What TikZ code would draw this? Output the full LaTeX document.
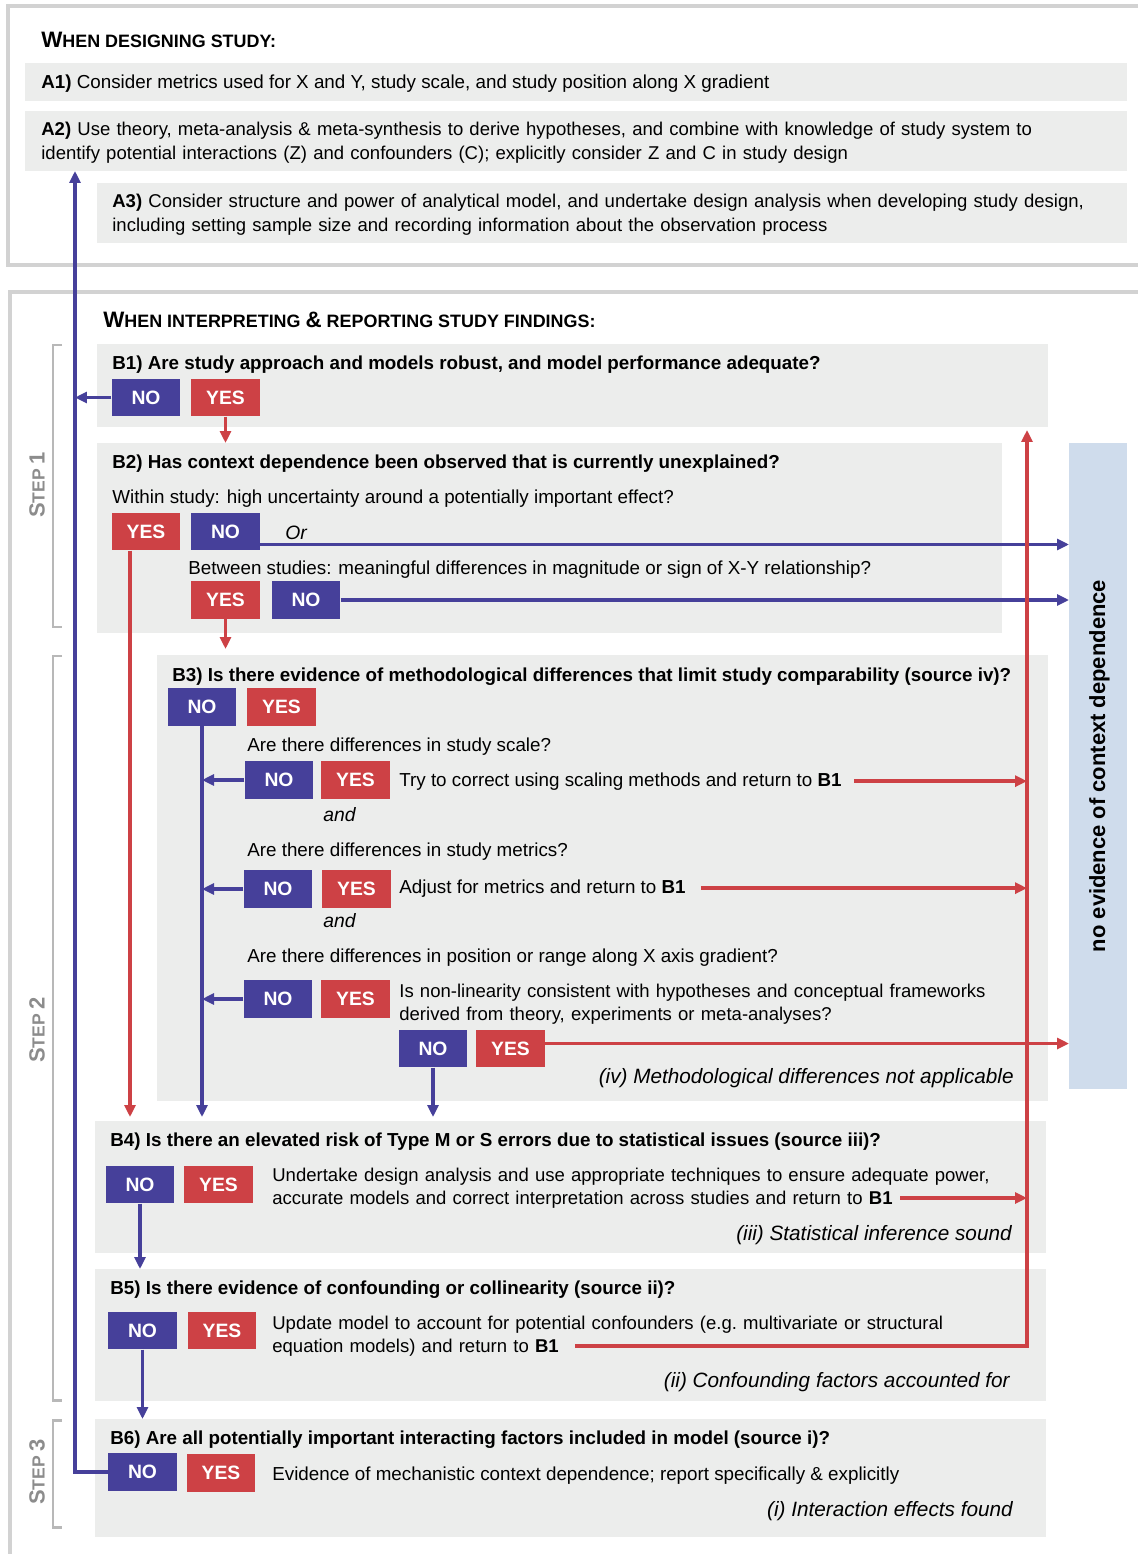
\documentclass[tikz,border=0pt]{standalone}
\usepackage{fontspec}
\setmainfont{Liberation Sans}
\usetikzlibrary{arrows.meta,fit}
\definecolor{CDBlue}{HTML}{46409A}
\definecolor{CDRed}{HTML}{CD4145}
\definecolor{CDPanel}{HTML}{ECEDEC}
\definecolor{CDSky}{HTML}{CFDCEC}
\definecolor{CDFrame}{HTML}{D2D2D2}
\definecolor{CDBracket}{HTML}{B8B8B8}
\definecolor{CDStep}{HTML}{8C8C8C}
\newcommand{\scbig}[1]{{\fontsize{12.7}{14}\selectfont #1}}
\newcommand{\scsmall}[1]{{\fontsize{10.2}{12}\selectfont #1}}
\newcommand{\steptag}[1]{{\fontsize{12.5}{14}\selectfont S}{\fontsize{10}{12}\selectfont TEP }{\fontsize{12.5}{14}\selectfont #1}}

\begin{document}
\begin{tikzpicture}[
    x=0.02cm, y=-0.02cm,
    frame/.style={draw=CDFrame, line width=2.3pt},
    bracket/.style={draw=CDBracket, line width=1.7pt},
    steplbl/.style={rotate=90, text=CDStep, font=\bfseries, inner sep=0pt},
    panel/.style={fill=CDPanel, inner sep=0pt, outer sep=0pt},
    skypanel/.style={fill=CDSky, inner sep=0pt, outer sep=0pt},
    nobtn/.style={
      fill=CDBlue,
      text=white,
      font=\fontsize{11}{13}\selectfont\bfseries,
      minimum width=1.37cm,
      minimum height=0.75cm,
      inner sep=0pt
    },
    yesbtn/.style={nobtn, fill=CDRed},
    heading/.style={anchor=base west, inner sep=0pt, font=\bfseries},
    qtext/.style={anchor=base west, inner sep=0pt, font=\fontsize{10.7}{13.1}\selectfont\bfseries},
    btext/.style={anchor=base west, inner sep=0pt, font=\fontsize{10.7}{13.1}\selectfont},
    btwo/.style={btext, align=left, text width=21cm, font=\fontsize{10.55}{13.1}\selectfont},
    joiner/.style={anchor=base west, inner sep=0pt, font=\fontsize{11}{13}\selectfont\itshape},
    note/.style={anchor=base east, inner sep=0pt, font=\fontsize{11.8}{14}\selectfont\itshape},
    noarrow/.style={
      draw=CDBlue,
      line width=1.9pt,
      -{Triangle[length=2.4mm,width=2.2mm]}
    },
    yesarrow/.style={noarrow, draw=CDRed}
  ]
  \useasboundingbox (0,0) rectangle (1137,1554);

  % frames and step brackets
  \draw[frame] (1145,6) -- (8,6) -- (8,265) -- (1145,265);
  \draw[frame] (1145,292) -- (10,292) -- (10,1560);
  \draw[bracket] (62,345) -- (53,345) -- (53,627) -- (62,627);
  \draw[bracket] (62,656) -- (53,656) -- (53,1400) -- (62,1400);
  \draw[bracket] (62,1420) -- (53,1420) -- (53,1527) -- (62,1527);
  \node[steplbl] (step1) at (37,485) {\steptag{1}};
  \node[steplbl] (step2) at (37,1030) {\steptag{2}};
  \node[steplbl] (step3) at (37,1472) {\steptag{3}};

  % panels
  \node[panel, fit={(25,63) (1127,101)}] (a1) {};
  \node[panel, fit={(25,111) (1127,171)}] (a2) {};
  \node[panel, fit={(97,183) (1127,243)}] (a3) {};
  \node[panel, fit={(97,344) (1048,427)}] (b1) {};
  \node[panel, fit={(97,443) (1002,633)}] (b2) {};
  \node[skypanel, fit={(1069,443) (1127,1089)}] (nocd) {};
  \node[panel, fit={(157,655) (1048,1101)}] (b3) {};
  \node[panel, fit={(95,1121) (1046,1253)}] (b4) {};
  \node[panel, fit={(95,1269) (1046,1401)}] (b5) {};
  \node[panel, fit={(95,1419) (1046,1537)}] (b6) {};
  \node[rotate=90, font=\fontsize{12.5}{14}\selectfont\bfseries] (nocdtxt) at ([xshift=0.03cm]nocd.center) {no evidence of context dependence};

  % design stage
  \node[heading] (ahead) at (41,48) {\scbig{W}\scsmall{HEN DESIGNING STUDY:}};
  \node[btext] (a1txt) at (41,89) {\textbf{A1)} Consider metrics used for X and Y, study scale, and study position along X gradient};
  \node[btwo] (a2txt) at (41,136) {\textbf{A2)} Use theory, meta-analysis \& meta-synthesis to derive hypotheses, and combine with knowledge of study system to\\identify potential interactions (Z) and confounders (C); explicitly consider Z and C in study design};
  \node[btwo] (a3txt) at (112,208) {\textbf{A3)} Consider structure and power of analytical model, and undertake design analysis when developing study design,\\including setting sample size and recording information about the observation process};

  % interpreting stage
  \node[heading] (bhead) at (103,328) {\scbig{W}\scsmall{HEN INTERPRETING }\scbig{\&}\scsmall{ REPORTING STUDY FINDINGS:}};

  \node[qtext] (b1q) at (112,369) {B1) Are study approach and models robust, and model performance adequate?};
  \node[nobtn] (b1no) at (146,397.5) {NO};
  \node[yesbtn] (b1yes) at (225.5,397.5) {YES};

  \node[qtext] (b2q) at (112,468) {B2) Has context dependence been observed that is currently unexplained?};
  \node[btext] (within) at (112,503) {Within study: high uncertainty around a potentially important effect?};
  \node[yesbtn] (b2yes) at (146,531.5) {YES};
  \node[nobtn] (b2no) at (225.5,531.5) {NO};
  \node[joiner] (ortxt) at (285,539) {Or};
  \node[btext] (between) at (188,574) {Between studies: meaningful differences in magnitude or sign of X-Y relationship?};
  \node[yesbtn] (b2yes2) at (225.5,600) {YES};
  \node[nobtn] (b2no2) at (306,600) {NO};

  \node[qtext] (b3q) at (172,681) {B3) Is there evidence of methodological differences that limit study comparability (source iv)?};
  \node[nobtn] (b3no) at (202,707) {NO};
  \node[yesbtn] (b3yes) at (281.5,707) {YES};
  \node[btext] (scaleq) at (247,751) {Are there differences in study scale?};
  \node[nobtn] (scaleno) at (279,780) {NO};
  \node[yesbtn] (scaleyes) at (355.5,780) {YES};
  \node[btext] (scaletxt) at (399,786) {Try to correct using scaling methods and return to \textbf{B1}};
  \node[joiner] (and1) at (323,821) {and};
  \node[btext] (metricq) at (247,856) {Are there differences in study metrics?};
  \node[nobtn] (metricno) at (278,889) {NO};
  \node[yesbtn] (metricyes) at (356.5,889) {YES};
  \node[btext] (metrictxt) at (399,893) {Adjust for metrics and return to \textbf{B1}};
  \node[joiner] (and2) at (323,927) {and};
  \node[btext] (posq) at (247,962) {Are there differences in position or range along X axis gradient?};
  \node[nobtn] (posno) at (278,999) {NO};
  \node[yesbtn] (posyes) at (355.5,999) {YES};
  \node[btwo] (nltxt) at (399,997) {Is non-linearity consistent with hypotheses and conceptual frameworks\\derived from theory, experiments or meta-analyses?};
  \node[nobtn] (nlno) at (433,1048.5) {NO};
  \node[yesbtn] (nlyes) at (510.5,1048.5) {YES};
  \node[note] (ivnote) at (1014,1083) {(iv) Methodological differences not applicable};

  \node[qtext] (b4q) at (110,1146) {B4) Is there an elevated risk of Type M or S errors due to statistical issues (source iii)?};
  \node[nobtn] (b4no) at (140,1184.5) {NO};
  \node[yesbtn] (b4yes) at (218.5,1184.5) {YES};
  \node[btwo] (b4txt) at (272,1181) {Undertake design analysis and use appropriate techniques to ensure adequate power,\\accurate models and correct interpretation across studies and return to \textbf{B1}};
  \node[note] (iiinote) at (1012,1240) {(iii) Statistical inference sound};

  \node[qtext] (b5q) at (110,1294) {B5) Is there evidence of confounding or collinearity (source ii)?};
  \node[nobtn] (b5no) at (142.5,1330.5) {NO};
  \node[yesbtn] (b5yes) at (222,1330.5) {YES};
  \node[btwo] (b5txt) at (272,1329) {Update model to account for potential confounders (e.g.\ multivariate or structural\\equation models) and return to \textbf{B1}};
  \node[note] (iinote) at (1010,1387) {(ii) Confounding factors accounted for};

  \node[qtext] (b6q) at (110,1444) {B6) Are all potentially important interacting factors included in model (source i)?};
  \node[nobtn] (b6no) at (142.5,1472) {NO};
  \node[yesbtn] (b6yes) at (221,1473) {YES};
  \node[btext] (b6txt) at (272,1480) {Evidence of mechanistic context dependence; report specifically \& explicitly};
  \node[note] (inote) at (1013,1516) {(i) Interaction effects found};

  \coordinate (loopx) at (75,0);
  \coordinate (ret) at (1027,430);
  \coordinate (orstart) at ([yshift=-0.26cm]b2no.east);
  \coordinate (withinyes) at ([xshift=-0.32cm]b2yes.south);
  \coordinate (nlstart) at ([yshift=0.1cm]nlyes.east);
  \coordinate (b4ret) at (900,1198);
  \coordinate (b5ret) at (575,1346);

  % no branches
  \draw[noarrow] (b6no.west) -| (a2.south -| loopx);
  \draw[noarrow] (b1no.west) -- (b1no.west -| loopx);
  \draw[noarrow] (orstart) -- (orstart -| nocd.west);
  \draw[noarrow] (b2no2.east) -- (b2no2.east -| nocd.west);
  \draw[noarrow] (b3no.south) -- ([yshift=0.08cm]b3no.south |- b4.north);
  \draw[noarrow] (scaleno.west) -- (scaleno.west -| b3no.south);
  \draw[noarrow] (metricno.west) -- (metricno.west -| b3no.south);
  \draw[noarrow] (posno.west) -- (posno.west -| b3no.south);
  \draw[noarrow] (nlno.south) -- ([yshift=0.08cm]nlno.south |- b4.north);
  \draw[noarrow] (b4no.south) -- (b4no.south |- b5.north);
  \draw[noarrow] (b5no.south) -- (b5no.south |- b6.north);

  % yes branches
  \draw[yesarrow] (b1yes.south) -- (b1yes.south |- b2.north);
  \draw[yesarrow] (b2yes2.south) -- ([yshift=0.12cm]b2yes2.south |- b3.north);
  \draw[yesarrow] (withinyes) -- ([yshift=0.08cm]withinyes |- b4.north);
  \draw[yesarrow] (nlstart) -- (nlstart -| nocd.west);
  \draw[yesarrow, shorten <=0.24cm] (scaletxt.east) -- (scaletxt.east -| ret);
  \draw[yesarrow, shorten <=0.3cm] (metrictxt.east) -- (metrictxt.east -| ret);
  \draw[yesarrow] (b4ret) -- (b4ret -| ret);
  \draw[yesarrow] (b5ret) -| (ret);

\end{tikzpicture}
\end{document}
